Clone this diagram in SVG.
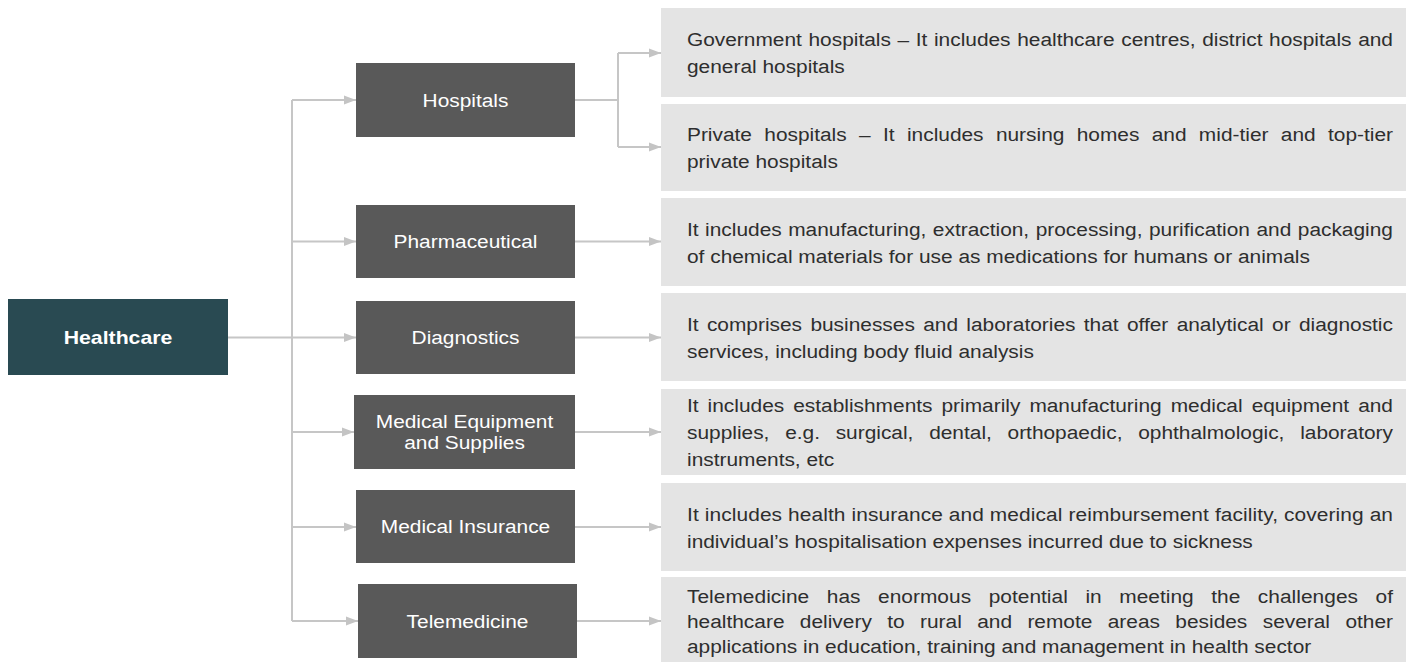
<svg xmlns="http://www.w3.org/2000/svg" width="1406" height="662" viewBox="0 0 1406 662">
<defs>
<style>
.root{fill:#294a52}
.cat{fill:#595959}
.desc{fill:#e4e4e4}
.lbl{font-family:"Liberation Sans",Arial,sans-serif;font-size:18px;fill:#ffffff;text-anchor:middle}
.root-lbl{font-weight:bold}
.b{font-family:"Liberation Sans",Arial,sans-serif;font-size:18px;fill:#2e2e2e}
.c{fill:none;stroke:#c6c6c6;stroke-width:2}
</style>
<marker id="ah" markerWidth="12" markerHeight="10" refX="12" refY="5" orient="auto" markerUnits="userSpaceOnUse">
<path d="M0,0.5 L12,5 L0,9.5 z" fill="#c4c4c4"/>
</marker>
</defs>
<rect width="1406" height="662" fill="#ffffff"/>

<g id="connectors">
<path class="c" d="M228,337.5 H292"/>
<path class="c" d="M292,100 V621"/>
<path class="c" d="M292,100 H356" marker-end="url(#ah)"/>
<path class="c" d="M292,241.5 H356" marker-end="url(#ah)"/>
<path class="c" d="M292,337.5 H356" marker-end="url(#ah)"/>
<path class="c" d="M292,432 H354" marker-end="url(#ah)"/>
<path class="c" d="M292,527 H356" marker-end="url(#ah)"/>
<path class="c" d="M292,621 H358" marker-end="url(#ah)"/>
<path class="c" d="M575,100 H618"/>
<path class="c" d="M618,53 V147"/>
<path class="c" d="M618,53 H661" marker-end="url(#ah)"/>
<path class="c" d="M618,147 H661" marker-end="url(#ah)"/>
<path class="c" d="M575,241.5 H661" marker-end="url(#ah)"/>
<path class="c" d="M575,337.5 H661" marker-end="url(#ah)"/>
<path class="c" d="M575,432 H661" marker-end="url(#ah)"/>
<path class="c" d="M575,527 H661" marker-end="url(#ah)"/>
<path class="c" d="M577,621 H661" marker-end="url(#ah)"/>
</g>

<g id="healthcare">
<rect class="root" x="8" y="299" width="220" height="76"/>
<text class="lbl root-lbl" transform="matrix(1.18,0,0,1,118,343.5)">Healthcare</text>
</g>

<g id="hospitals">
<rect class="cat" x="356" y="63" width="219" height="74"/>
<text class="lbl" transform="matrix(1.16,0,0,1,465.5,106.5)">Hospitals</text>
</g>
<g id="pharmaceutical">
<rect class="cat" x="356" y="205" width="219" height="73"/>
<text class="lbl" transform="matrix(1.16,0,0,1,465.5,248)">Pharmaceutical</text>
</g>
<g id="diagnostics">
<rect class="cat" x="356" y="301" width="219" height="73"/>
<text class="lbl" transform="matrix(1.16,0,0,1,465.5,344)">Diagnostics</text>
</g>
<g id="medical-equipment">
<rect class="cat" x="354" y="395" width="221" height="74"/>
<text class="lbl" transform="matrix(1.16,0,0,1,464.5,428)">Medical Equipment</text>
<text class="lbl" transform="matrix(1.16,0,0,1,464.5,449)">and Supplies</text>
</g>
<g id="medical-insurance">
<rect class="cat" x="356" y="490" width="219" height="73"/>
<text class="lbl" transform="matrix(1.16,0,0,1,465.5,533)">Medical Insurance</text>
</g>
<g id="telemedicine">
<rect class="cat" x="358" y="584" width="219" height="74"/>
<text class="lbl" transform="matrix(1.16,0,0,1,467.5,627.5)">Telemedicine</text>
</g>

<g id="government-hospitals">
<rect class="desc" x="661" y="8" width="745" height="89"/>
<text class="b" transform="matrix(1.16,0,0,1,687,46)" word-spacing="0.7" textLength="608.6" lengthAdjust="spacing">Government hospitals – It includes healthcare centres, district hospitals and</text>
<text class="b" transform="matrix(1.16,0,0,1,687,73)">general hospitals</text>
</g>
<g id="private-hospitals">
<rect class="desc" x="661" y="104" width="745" height="87"/>
<text class="b" transform="matrix(1.16,0,0,1,687,141)" word-spacing="5.64" textLength="608.6" lengthAdjust="spacing">Private hospitals – It includes nursing homes and mid-tier and top-tier</text>
<text class="b" transform="matrix(1.16,0,0,1,687,168)">private hospitals</text>
</g>
<g id="pharmaceutical-desc">
<rect class="desc" x="661" y="198" width="745" height="88"/>
<text class="b" transform="matrix(1.16,0,0,1,687,236)" word-spacing="0.6" textLength="608.6" lengthAdjust="spacing">It includes manufacturing, extraction, processing, purification and packaging</text>
<text class="b" transform="matrix(1.16,0,0,1,687,263)">of chemical materials for use as medications for humans or animals</text>
</g>
<g id="diagnostics-desc">
<rect class="desc" x="661" y="293" width="745" height="88"/>
<text class="b" transform="matrix(1.16,0,0,1,687,331)" word-spacing="2.16" textLength="608.6" lengthAdjust="spacing">It comprises businesses and laboratories that offer analytical or diagnostic</text>
<text class="b" transform="matrix(1.16,0,0,1,687,358)">services, including body fluid analysis</text>
</g>
<g id="medical-equipment-desc">
<rect class="desc" x="661" y="389" width="745" height="86"/>
<text class="b" transform="matrix(1.16,0,0,1,687,412)" word-spacing="2.77" textLength="608.6" lengthAdjust="spacing">It includes establishments primarily manufacturing medical equipment and</text>
<text class="b" transform="matrix(1.16,0,0,1,687,439)" word-spacing="8.55" textLength="608.6" lengthAdjust="spacing">supplies, e.g. surgical, dental, orthopaedic, ophthalmologic, laboratory</text>
<text class="b" transform="matrix(1.16,0,0,1,687,466)">instruments, etc</text>
</g>
<g id="medical-insurance-desc">
<rect class="desc" x="661" y="483" width="745" height="88"/>
<text class="b" transform="matrix(1.16,0,0,1,687,521)" textLength="608.6" lengthAdjust="spacing">It includes health insurance and medical reimbursement facility, covering an</text>
<text class="b" transform="matrix(1.16,0,0,1,687,548)">individual’s hospitalisation expenses incurred due to sickness</text>
</g>
<g id="telemedicine-desc">
<rect class="desc" x="661" y="577" width="745" height="85"/>
<text class="b" transform="matrix(1.16,0,0,1,687,603)" word-spacing="10.05" textLength="608.6" lengthAdjust="spacing">Telemedicine has enormous potential in meeting the challenges of</text>
<text class="b" transform="matrix(1.16,0,0,1,687,628)" word-spacing="8.27" textLength="608.6" lengthAdjust="spacing">healthcare delivery to rural and remote areas besides several other</text>
<text class="b" transform="matrix(1.16,0,0,1,687,653)">applications in education, training and management in health sector</text>
</g>
</svg>
